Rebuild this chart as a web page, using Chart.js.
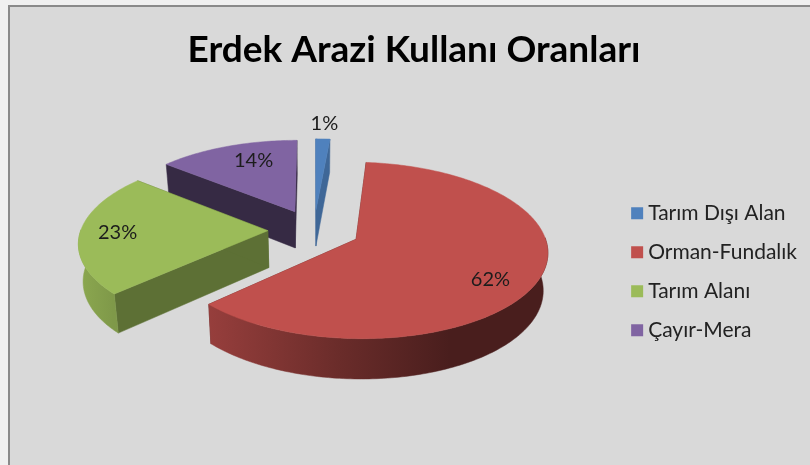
<!DOCTYPE html>
<html>
<head>
<meta charset="utf-8">
<script src="https://cdn.jsdelivr.net/npm/chart.js@4"></script>
<style>
html,body{margin:0;padding:0;width:810px;height:465px;overflow:hidden;background:#f0f0f0}
#frame{position:absolute;left:8px;top:5px;width:802px;height:460px;box-sizing:border-box;background:#d9d9d9;border-left:2px solid #8a8a8a;border-top:2px solid #8a8a8a}
canvas{position:absolute;left:0;top:0}
</style>
</head>
<body>
<div id="frame"></div>
<canvas id="c" width="810" height="465" style="width:810px;height:465px"></canvas>
<script>
const categories = ["Tarım Dışı Alan", "Orman-Fundalık", "Tarım Alanı", "Çayır-Mera"];
const shares = [1.4, 61.6, 23, 14];
const sliceColors = ["#4F81BD", "#C0504D", "#9BBB59", "#8064A2"];
const wallShades = [0.8, 0.5, 0.6, 0.42];
const labelRadius = [1.25, 0.79, 0.8, 0.74];
const labelTurn = [0, 0.035, 0, 0.1];
const titleText = "Erdek Arazi Kullanı Oranları";

// Oblique view of the pie's disc: the library supplies each arc's angles, radius and offset.
const view = {x: 314, y: 230, rx: 187, ry: 84.5, persp: 0.125, depth: 37};
const rimStops = [[78, .9], [113, .82], [210, .78], [340, .55], [450, .38], [550, .38]];

function top3d(u, v) {
  const s = 1 / (1 - view.persp * v);
  return {x: view.x + view.rx * u * s, y: view.y + view.ry * v * s};
}
function low3d(u, v) {
  const p = top3d(u, v);
  return {x: view.x + (p.x - view.x) * 0.98, y: p.y + view.depth + 3 * v};
}
function shade(hex, f) {
  const n = parseInt(hex.slice(1), 16);
  return `rgb(${Math.round((n >> 16) * f)},${Math.round(((n >> 8) & 255) * f)},${Math.round((n & 255) * f)})`;
}
function poly(ctx, pts, fill) {
  ctx.beginPath();
  pts.forEach((p, i) => i ? ctx.lineTo(p.x, p.y) : ctx.moveTo(p.x, p.y));
  ctx.closePath();
  ctx.fillStyle = fill;
  ctx.strokeStyle = fill;
  ctx.lineWidth = 0.5;
  ctx.fill();
  ctx.stroke();
}
function sliceGeom(arc) {
  const R = arc.outerRadius, mid = (arc.startAngle + arc.endAngle) / 2;
  const d = arc.options.offset / R;
  const ax = d * Math.cos(mid), ay = d * Math.sin(mid);
  const rim = [], angles = [];
  const steps = Math.max(4, Math.ceil((arc.endAngle - arc.startAngle) * 180 / Math.PI));
  for (let i = 0; i <= steps; i++) {
    const a = arc.startAngle + (arc.endAngle - arc.startAngle) * i / steps;
    rim.push([ax + Math.cos(a), ay + Math.sin(a)]);
    angles.push(a);
  }
  return {ax, ay, rim, mid, angles};
}

const pie3d = {
  id: "pie3d",
  beforeDatasetDraw(chart) {
    const ctx = chart.ctx;
    const arcs = chart.getDatasetMeta(0).data.map((arc, i) => ({arc, i, g: sliceGeom(arc)}));
    arcs.sort((a, b) => a.g.ay - b.g.ay);
    ctx.save();
    for (const {i, g} of arcs) {
      const base = sliceColors[i];
      const first = g.rim[0], last = g.rim[g.rim.length - 1];
      const wall = shade(base, wallShades[i]);
      poly(ctx, [top3d(g.ax, g.ay), top3d(...first), low3d(...first), low3d(g.ax, g.ay)], wall);
      poly(ctx, [top3d(g.ax, g.ay), top3d(...last), low3d(...last), low3d(g.ax, g.ay)], wall);
      const frontRim = g.rim.filter((p, k) => Math.sin(g.angles[k]) > -0.02);
      if (frontRim.length > 1) {
        const grad = ctx.createLinearGradient(78, 0, 550, 0);
        rimStops.forEach(([x, f]) => grad.addColorStop((x - 78) / 472, shade(base, f)));
        const front = frontRim.map(p => top3d(...p));
        const back = frontRim.map(p => low3d(...p)).reverse();
        poly(ctx, front.concat(back), grad);
      }
      poly(ctx, [top3d(g.ax, g.ay)].concat(g.rim.map(p => top3d(...p))), base);
    }
    ctx.restore();
    return false;
  },
  afterDatasetsDraw(chart) {
    const ctx = chart.ctx;
    const total = shares.reduce((a, b) => a + b, 0);
    ctx.save();
    ctx.font = "20px Lato";
    ctx.fillStyle = "#1c1c1c";
    ctx.textAlign = "center";
    ctx.textBaseline = "middle";
    chart.getDatasetMeta(0).data.forEach((arc, i) => {
      const g = sliceGeom(arc);
      const a = g.mid + labelTurn[i] * (arc.endAngle - arc.startAngle);
      const p = top3d(g.ax + labelRadius[i] * Math.cos(a), g.ay + labelRadius[i] * Math.sin(a));
      ctx.fillText(Math.round(shares[i] / total * 100) + "%", p.x, p.y);
    });
    ctx.restore();
  }
};

new Chart(document.getElementById("c"), {
  type: "pie",
  plugins: [pie3d],
  data: {
    labels: categories,
    datasets: [{data: shares, backgroundColor: sliceColors, borderWidth: 0, offset: 37, radius: 150}]
  },
  options: {
    responsive: false,
    animation: false,
    layout: {padding: {left: 21, right: 3, top: 28, bottom: 0}},
    plugins: {
      tooltip: {enabled: false},
      title: {
        display: true,
        text: titleText,
        color: "#000",
        font: {family: "Lato", size: 37, weight: "bold"},
        padding: {top: 0, bottom: 6}
      },
      legend: {
        position: "right",
        fullSize: false,
        labels: {
          color: "#222",
          font: {family: "Lato", size: 21},
          usePointStyle: true,
          pointStyle: "rect",
          boxWidth: 1,
          boxHeight: 12,
          padding: 18
        }
      }
    }
  }
});
</script>
</body>
</html>
